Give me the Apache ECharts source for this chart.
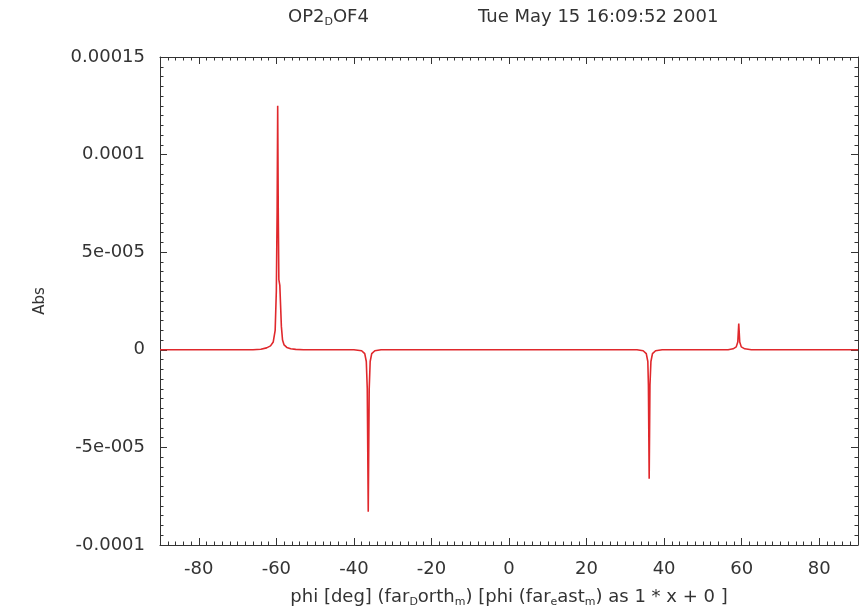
<!DOCTYPE html>
<html>
<head>
<meta charset="utf-8">
<script src="https://cdn.jsdelivr.net/npm/echarts@6/dist/echarts.min.js"></script>
<style>html,body{margin:0;padding:0;background:#fff}#c{width:862px;height:613px}</style>
</head>
<body>
<div id="c"></div>
<script>
// Data
var xMajorTicks = [-80, -60, -40, -20, 0, 20, 40, 60, 80];
var yTickLabelMap = {'-10': '-0.0001', '-5': '-5e-005', '0': '0', '5': '5e-005', '10': '0.0001', '15': '0.00015'};
var phi = [-90, -66, -64, -62.5, -61.5, -60.8, -60.3, -60.0, -59.8, -59.65, -59.5, -59.35, -59.1, -58.9, -58.7, -58.4, -58.0, -57.3, -56.3, -55, -53,
           -40, -38, -37.2, -36.8, -36.55, -36.3, -36.05, -35.8, -35.4, -34.6, -33,
           33, 34.6, 35.4, 35.8, 35.95, 36.15, 36.35, 36.6, 37.0, 37.8, 39.5,
           56.5, 57.8, 58.6, 59.0, 59.25, 59.5, 59.9, 60.8, 62.5, 90];
var absVal = [0, 0, 0.3e-6, 1.0e-6, 2.0e-6, 4.0e-6, 1.0e-5, 3.0e-5, 7.0e-5, 1.25e-4, 7.0e-5, 3.6e-5, 3.3e-5, 3.2e-5, 1.2e-5, 5e-6, 2.5e-6, 1.2e-6, 0.5e-6, 0.2e-6, 0,
              0, -0.5e-6, -2e-6, -6e-6, -2e-5, -8.3e-5, -2e-5, -6e-6, -2e-6, -0.5e-6, 0,
              0, -0.5e-6, -2e-6, -6e-6, -1.8e-5, -6.6e-5, -1.8e-5, -6e-6, -2e-6, -0.5e-6, 0,
              0, 0.5e-6, 1.5e-6, 4e-6, 1.35e-5, 4e-6, 1.5e-6, 0.5e-6, 0, 0];

var seriesData = phi.map(function (p, i) { return [p, absVal[i]]; });

var font = 'DejaVu Sans, sans-serif';
var ink = '#333';
var fs = 18;
var richStyles = {
  a: {fontFamily: font, fontSize: fs, fontWeight: 'normal', color: ink, lineHeight: 22, verticalAlign: 'middle'},
  s: {fontFamily: font, fontSize: 11, fontWeight: 'normal', color: ink, lineHeight: 9, verticalAlign: 'bottom'}
};
var chart = echarts.init(document.getElementById('c'), null, {renderer: 'canvas'});

function xAx(pos, major, labels, name) {
  var o = {
    type: 'value', position: pos, min: -90, max: 90,
    axisLine: {show: major, onZero: false, lineStyle: {color: ink, width: 1}},
    splitLine: {show: false},
    axisTick: {show: true, inside: true, length: major ? 7 : 3.5, lineStyle: {color: ink}},
    axisLabel: {show: labels, color: ink, fontFamily: font, fontSize: fs, margin: 15}
  };
  if (major) {
    o.axisTick.customValues = xMajorTicks;
    o.axisLabel.customValues = xMajorTicks;
  } else {
    o.interval = 2;
  }
  if (name) {
    o.name = '{a|phi [deg] (far}{s|D}{a|orth}{s|m}{a|) [phi (far}{s|e}{a|ast}{s|m}{a|) as 1 * x + 0 ]}';
    o.nameLocation = 'middle';
    o.nameGap = 41;
    o.nameTextStyle = {color: ink, fontFamily: font, fontSize: fs, rich: richStyles};
  }
  return o;
}
function yAx(pos, labels) {
  return {
    type: 'value', position: pos, min: -0.0001, max: 0.00015, interval: 0.00005,
    axisLine: {show: true, onZero: false, lineStyle: {color: ink, width: 1}},
    splitLine: {show: false},
    axisTick: {show: true, inside: true, length: 7, lineStyle: {color: ink}},
    minorTick: {show: true, splitNumber: 10, length: 3.5, lineStyle: {color: ink}},
    axisLabel: {show: labels, color: ink, fontFamily: font, fontSize: fs, margin: 15,
      formatter: function (v) {
        var kk = (Math.round(v * 1e5)).toString();
        return yTickLabelMap[kk] !== undefined ? yTickLabelMap[kk] : String(v);
      }
    },
    name: labels ? 'Abs' : '',
    nameLocation: 'middle', nameGap: 112, nameRotate: 90,
    nameTextStyle: {color: ink, fontFamily: font, fontSize: 15}
  };
}

chart.setOption({
  backgroundColor: '#fff',
  animation: false,
  title: [
    {text: '{a|OP2}{s|D}{a|OF4}', left: 288, top: 6, padding: 0, textStyle: {rich: richStyles}},
    {text: 'Tue May 15 16:09:52 2001', left: 478, top: 8, padding: 0,
     textStyle: {fontFamily: font, fontSize: fs, fontWeight: 'normal', color: ink}}
  ],
  grid: {left: 160, right: 4, top: 57, bottom: 68, containLabel: false},
  xAxis: [
    xAx('bottom', true, true, true),
    xAx('bottom', false, false, false),
    xAx('top', true, false, false),
    xAx('top', false, false, false)
  ],
  yAxis: [yAx('left', true), yAx('right', false)],
  series: [{
    type: 'line', xAxisIndex: 0, yAxisIndex: 0,
    data: seriesData, showSymbol: false, symbol: 'none',
    lineStyle: {color: '#e0282c', width: 1.6},
    z: 5
  }]
});
</script>
</body>
</html>
